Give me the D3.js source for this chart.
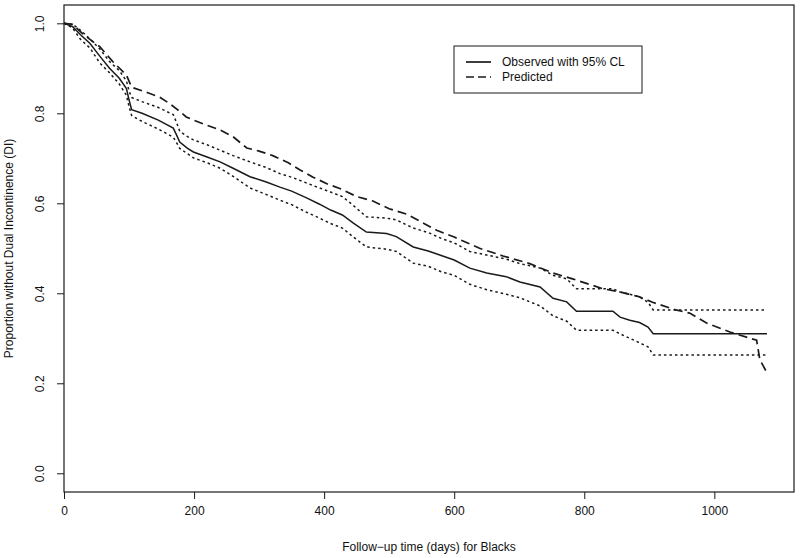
<!DOCTYPE html>
<html>
<head>
<meta charset="utf-8">
<script src="https://cdn.jsdelivr.net/npm/d3@7"></script>
<style>
  html, body { margin: 0; padding: 0; background: #fff; }
  svg { display: block; }
  text { font-family: "Liberation Sans", Arial, sans-serif; fill: #111; }
</style>
</head>
<body>
<svg id="chart" width="800" height="558"></svg>
<script>
// ---- Data ----
const kmTime = [0, 13, 25, 40, 55, 70, 85, 96, 100, 104, 120, 145, 168, 173, 178, 190, 199, 220, 240, 260,
  286, 310, 332, 350, 373, 393, 410, 428, 445, 465, 496, 511, 537, 560, 580, 600, 624, 650, 680, 701,
  732, 752, 773, 788, 844, 855, 870, 885, 898, 906, 1081];
const observed = [1.0, 0.993, 0.975, 0.955, 0.927, 0.9, 0.878, 0.855, 0.83, 0.808, 0.8, 0.785, 0.767, 0.752, 0.736, 0.722, 0.714, 0.703, 0.692, 0.678,
  0.659, 0.648, 0.636, 0.627, 0.612, 0.598, 0.585, 0.574, 0.556, 0.536, 0.533, 0.526, 0.503, 0.494, 0.484, 0.474, 0.456, 0.445, 0.437, 0.425,
  0.414, 0.389, 0.381, 0.36, 0.36, 0.347, 0.34, 0.335, 0.325, 0.31, 0.31];
const upperCL = [1.0, 0.998, 0.985, 0.965, 0.943, 0.915, 0.895, 0.872, 0.85, 0.835, 0.826, 0.813, 0.797, 0.78, 0.76, 0.748, 0.741, 0.73, 0.718, 0.706,
  0.692, 0.68, 0.666, 0.658, 0.645, 0.634, 0.625, 0.615, 0.595, 0.57, 0.567, 0.563, 0.545, 0.535, 0.522, 0.512, 0.493, 0.485, 0.476, 0.466,
  0.456, 0.44, 0.432, 0.41, 0.41, 0.403, 0.398, 0.392, 0.38, 0.363, 0.363];
const lowerCL = [1.0, 0.99, 0.965, 0.945, 0.912, 0.89, 0.865, 0.84, 0.815, 0.795, 0.782, 0.765, 0.747, 0.735, 0.722, 0.71, 0.701, 0.69, 0.678, 0.66,
  0.634, 0.62, 0.607, 0.597, 0.58, 0.567, 0.555, 0.545, 0.525, 0.503, 0.498, 0.493, 0.467, 0.46, 0.448, 0.44, 0.42, 0.408, 0.398, 0.39,
  0.372, 0.35, 0.338, 0.318, 0.318, 0.31, 0.3, 0.29, 0.281, 0.263, 0.263];

const predTime = [0, 13, 30, 55, 75, 96, 104, 130, 147, 162, 173, 188, 199, 219, 240, 260, 281, 300, 321, 345,
  363, 383, 405, 424, 450, 475, 500, 527, 550, 573, 600, 639, 675, 716, 752, 782, 829, 855, 885, 905,
  941, 962, 988, 1024, 1055, 1065, 1070, 1080];
const predicted = [1.0, 0.998, 0.975, 0.948, 0.915, 0.885, 0.858, 0.845, 0.836, 0.822, 0.81, 0.792, 0.785, 0.774, 0.763, 0.748, 0.723, 0.716, 0.706, 0.69,
  0.674, 0.658, 0.643, 0.633, 0.615, 0.605, 0.588, 0.576, 0.558, 0.54, 0.525, 0.5, 0.483, 0.466, 0.445, 0.432, 0.41, 0.403, 0.392, 0.38,
  0.363, 0.356, 0.334, 0.314, 0.3, 0.296, 0.252, 0.226];

const xTicks = [0, 200, 400, 600, 800, 1000];
const yTicks = [0.0, 0.2, 0.4, 0.6, 0.8, 1.0];
const legendLabels = ["Observed with 95% CL", "Predicted"];
const xTitle = "Follow\u2212up time (days) for Blacks";
const yTitle = "Proportion without Dual Incontinence (DI)";

// ---- Layout ----
const svg = d3.select("#chart");
const plot = { left: 64, right: 794, top: 5, bottom: 492 };
const x = d3.scaleLinear().domain([0, 1122.5]).range([plot.left, plot.right]);
const y = d3.scaleLinear().domain([-0.0416, 1.0407]).range([plot.bottom, plot.top]);
const ink = "#1a1a1a";

// axes
const xAxis = d3.axisBottom(x).tickValues(xTicks).tickSize(7).tickPadding(7).tickFormat(d3.format("d"));
const gx = svg.append("g").attr("transform", `translate(0,${plot.bottom})`).call(xAxis);
gx.select(".domain").remove();
gx.selectAll("line").attr("stroke", ink);
gx.selectAll("text").attr("font-size", 12).attr("font-family", "Liberation Sans, Arial, sans-serif").attr("fill", ink);

const yAxis = d3.axisLeft(y).tickValues(yTicks).tickSize(7).tickFormat(d3.format(".1f"));
const gy = svg.append("g").attr("transform", `translate(${plot.left},0)`).call(yAxis);
gy.select(".domain").remove();
gy.selectAll("line").attr("stroke", ink);
gy.selectAll("text")
  .attr("font-size", 12).attr("font-family", "Liberation Sans, Arial, sans-serif").attr("fill", ink)
  .attr("x", null).attr("dy", null)
  .attr("text-anchor", "middle")
  .attr("transform", `translate(-20,0) rotate(-90)`)
  .attr("y", 0);

// box
svg.append("rect")
  .attr("x", plot.left).attr("y", plot.top)
  .attr("width", plot.right - plot.left).attr("height", plot.bottom - plot.top)
  .attr("fill", "none").attr("stroke", ink).attr("stroke-width", 1.2);

// titles
svg.append("text").attr("x", (plot.left + plot.right) / 2).attr("y", 551)
  .attr("text-anchor", "middle").attr("font-size", 12).text(xTitle);
svg.append("text").attr("transform", `translate(13,${(plot.top + plot.bottom) / 2}) rotate(-90)`)
  .attr("text-anchor", "middle").attr("font-size", 12).text(yTitle);

// curves
const kmLine = vals => d3.line()
  .x((d, i) => x(kmTime[i])).y((d, i) => y(vals[i]));

const g = svg.append("g");
g.append("path").datum(upperCL).attr("d", kmLine(upperCL))
  .attr("fill", "none").attr("stroke", ink).attr("stroke-width", 1.5).attr("stroke-dasharray", "2.5,3");
g.append("path").datum(lowerCL).attr("d", kmLine(lowerCL))
  .attr("fill", "none").attr("stroke", ink).attr("stroke-width", 1.5).attr("stroke-dasharray", "2.5,3");
g.append("path").datum(observed).attr("d", kmLine(observed))
  .attr("fill", "none").attr("stroke", ink).attr("stroke-width", 1.5);

const predLine = d3.line().x((d, i) => x(predTime[i])).y((d, i) => y(predicted[i]));
g.append("path").datum(predicted).attr("d", predLine(predicted))
  .attr("fill", "none").attr("stroke", ink).attr("stroke-width", 1.7).attr("stroke-dasharray", "9,5");

// legend
const lg = svg.append("g");
lg.append("rect").attr("x", 454).attr("y", 46).attr("width", 188).attr("height", 47)
  .attr("fill", "#fff").attr("stroke", ink).attr("stroke-width", 1);
const legendDash = [null, "8,4"];
legendLabels.forEach((lab, i) => {
  const yy = 62 + i * 15;
  lg.append("line").attr("x1", 466).attr("x2", 491).attr("y1", yy).attr("y2", yy)
    .attr("stroke", ink).attr("stroke-width", 1.7)
    .attr("stroke-dasharray", legendDash[i]);
  lg.append("text").attr("x", 502).attr("y", yy).attr("dy", "0.35em")
    .attr("font-size", 12).text(lab);
});
</script>
</body>
</html>
